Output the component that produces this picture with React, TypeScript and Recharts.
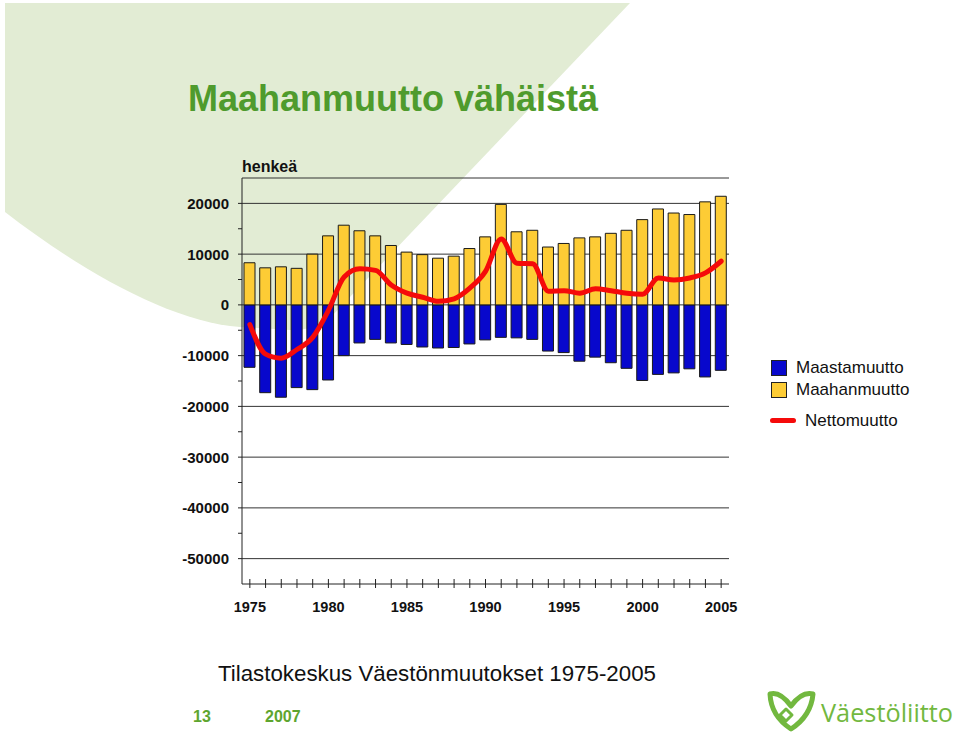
import React from "react";
import {
  ComposedChart,
  Bar,
  Line,
  XAxis,
  YAxis,
  CartesianGrid,
  Legend,
} from "recharts";

const FONT = '"Liberation Sans", Arial, Helvetica, sans-serif';

const years = [
  1975, 1976, 1977, 1978, 1979, 1980, 1981, 1982, 1983, 1984, 1985, 1986,
  1987, 1988, 1989, 1990, 1991, 1992, 1993, 1994, 1995, 1996, 1997, 1998,
  1999, 2000, 2001, 2002, 2003, 2004, 2005,
];

// henkeä per vuosi
const maahanmuutto = [
  8300, 7300, 7500, 7200, 10000, 13600, 15700, 14600, 13600, 11700, 10400,
  9900, 9200, 9600, 11100, 13400, 19800, 14400, 14700, 11400, 12100, 13200,
  13400, 14100, 14700, 16800, 18900, 18100, 17800, 20300, 21400,
];

const maastamuutto = [
  -12300, -17300, -18200, -16300, -16700, -14800, -10000, -7500, -6800, -7500,
  -7800, -8300, -8500, -8400, -7700, -6900, -6400, -6500, -6800, -9100, -9400,
  -11100, -10300, -11400, -12500, -14900, -13700, -13400, -12600, -14200,
  -12900,
];

const nettomuutto = [
  -3900, -9700, -10500, -8800, -6400, -1100, 5500, 7100, 6800, 3900, 2300,
  1500, 700, 1200, 3300, 6600, 13000, 8200, 8100, 2700, 2800, 2300, 3200,
  2800, 2300, 2100, 5300, 4900, 5300, 6300, 8600,
];

const yTicks = [
  -50000, -45000, -40000, -35000, -30000, -25000, -20000, -15000, -10000,
  -5000, 0, 5000, 10000, 15000, 20000,
];
const gridValues = [
  -50000, -40000, -30000, -20000, -10000, 0, 10000, 20000, 25000,
];

const legendOrder = ["Maastamuutto", "Maahanmuutto", "Nettomuutto"];

const data = years.map((year, i) => ({
  year,
  maastamuutto: maastamuutto[i],
  maahanmuutto: maahanmuutto[i],
  nettomuutto: nettomuutto[i],
}));

function YTick({ x, y, payload }: any) {
  const v = payload.value;
  if (v % 10000 !== 0) return <g />;
  return (
    <text
      x={x}
      y={y}
      dy={5.5}
      textAnchor="end"
      fontSize={15}
      fontWeight="bold"
      fontFamily={FONT}
      fill="#111"
    >
      {v}
    </text>
  );
}

function XTick({ x, y, payload }: any) {
  const yr = payload.value;
  return (
    <g>
      <line x1={x} x2={x} y1={y - 9} y2={y} stroke="#222" strokeWidth={1} />
      {yr % 5 === 0 && (
        <text
          x={x}
          y={y + 24}
          textAnchor="middle"
          fontSize={14.5}
          fontWeight="bold"
          fontFamily={FONT}
          fill="#111"
        >
          {yr}
        </text>
      )}
    </g>
  );
}

function LegendContent({ payload }: any) {
  // keep the order of the original legend
  const items = [...(payload || [])].sort(
    (a: any, b: any) => legendOrder.indexOf(a.value) - legendOrder.indexOf(b.value)
  );
  return (
    <div style={{ fontFamily: FONT, fontSize: 17, color: "#111" }}>
      {items.map((entry: any) => {
        const isLine = entry.type === "line";
        return (
          <div
            key={entry.value}
            style={{
              display: "flex",
              alignItems: "center",
              height: isLine ? 23 : 22,
              marginTop: isLine ? 8 : 0,
            }}
          >
            {isLine ? (
              <span
                style={{
                  width: 26,
                  height: 5,
                  borderRadius: 3,
                  background: entry.color,
                  marginRight: 9,
                }}
              />
            ) : (
              <span
                style={{
                  width: 16,
                  height: 16,
                  boxSizing: "border-box",
                  border: "1px solid #222",
                  background: entry.color,
                  marginRight: 9,
                  marginLeft: 1,
                }}
              />
            )}
            <span>{entry.value}</span>
          </div>
        );
      })}
    </div>
  );
}

function Background() {
  return (
    <svg
      width={960}
      height={735}
      style={{ position: "absolute", left: 0, top: 0 }}
    >
      <path
        d="M5 3 L630 3 L330 318 Q318 330 290 330 L240 327 C170 322 80 270 5 212 Z"
        fill="#e2ecd4"
      />
      <text
        x={188}
        y={111}
        fontSize={36}
        fontWeight="bold"
        fontFamily={FONT}
        fill="#4f9b2d"
      >
        Maahanmuutto vähäistä
      </text>
      <text
        x={242}
        y={172}
        fontSize={16}
        fontWeight="bold"
        fontFamily={FONT}
        fill="#111"
      >
        henkeä
      </text>
      <text x={218} y={681} fontSize={22.3} fontFamily={FONT} fill="#111">
        Tilastokeskus Väestönmuutokset 1975-2005
      </text>
      <text
        x={193}
        y={722}
        fontSize={16}
        fontWeight="bold"
        fontFamily={FONT}
        fill="#5ea52f"
      >
        13
      </text>
      <text
        x={265}
        y={722}
        fontSize={16}
        fontWeight="bold"
        fontFamily={FONT}
        fill="#5ea52f"
      >
        2007
      </text>
      <g fill="none" stroke="#72b83f" strokeWidth={5} strokeLinejoin="round">
        <path d="M770 694 Q780 691 791 706 Q802 691 813 694 Q811 716 791 729 Q771 716 770 694 Z" />
        <path d="M786 709 L792 715 L786 721 L780 715 Z" strokeWidth={3} />
      </g>
      <text
        x={821}
        y={722}
        fontSize={25.3}
        fontFamily={'"Open Sans", "DejaVu Sans", sans-serif'}
        fill="#72b83f"
      >
        Väestöliitto
      </text>
    </svg>
  );
}

export default function App() {
  return (
    <div
      style={{
        position: "absolute",
        left: 0,
        top: 0,
        width: 960,
        height: 735,
        background: "#fff",
        overflow: "hidden",
      }}
    >
      <Background />
      <div style={{ position: "absolute", left: 0, top: 0 }}>
        <ComposedChart
          width={960}
          height={735}
          data={data}
          stackOffset="sign"
          margin={{ top: 178, right: 231, left: 180, bottom: 111 }}
        >
          <CartesianGrid
            vertical={false}
            horizontalValues={gridValues}
            stroke="#333"
            strokeWidth={1}
          />
          <XAxis
            dataKey="year"
            interval={0}
            height={40}
            tickSize={4}
            tickMargin={0}
            tickLine={false}
            axisLine={{ stroke: "#222" }}
            tick={<XTick />}
          />
          <YAxis
            domain={[-55000, 25000]}
            ticks={yTicks}
            width={62}
            tickSize={4}
            tickMargin={9}
            tickLine={{ stroke: "#222" }}
            axisLine={{ stroke: "#222" }}
            tick={<YTick />}
            allowDataOverflow
          />
          <YAxis
            yAxisId="frame"
            orientation="right"
            domain={[-55000, 25000]}
            width={0}
            tick={false}
            tickLine={false}
            axisLine={{ stroke: "#333" }}
          />
          <Legend
            layout="vertical"
            align="center"
            verticalAlign="middle"
            wrapperStyle={{ left: 770, top: 357, width: 190 }}
            content={<LegendContent />}
          />
          <Bar
            dataKey="maastamuutto"
            name="Maastamuutto"
            stackId="a"
            fill="#0808cc"
            stroke="#1a1a1a"
            strokeWidth={1}
            barSize={11}
            isAnimationActive={false}
          />
          <Bar
            dataKey="maahanmuutto"
            name="Maahanmuutto"
            stackId="a"
            fill="#fdcc35"
            stroke="#1a1a1a"
            strokeWidth={1}
            barSize={11}
            isAnimationActive={false}
          />
          <Line
            dataKey="nettomuutto"
            name="Nettomuutto"
            type="monotone"
            stroke="#f50a0a"
            strokeWidth={5}
            strokeLinecap="round"
            dot={false}
            activeDot={false}
            legendType="line"
            isAnimationActive={false}
          />
        </ComposedChart>
      </div>
    </div>
  );
}
